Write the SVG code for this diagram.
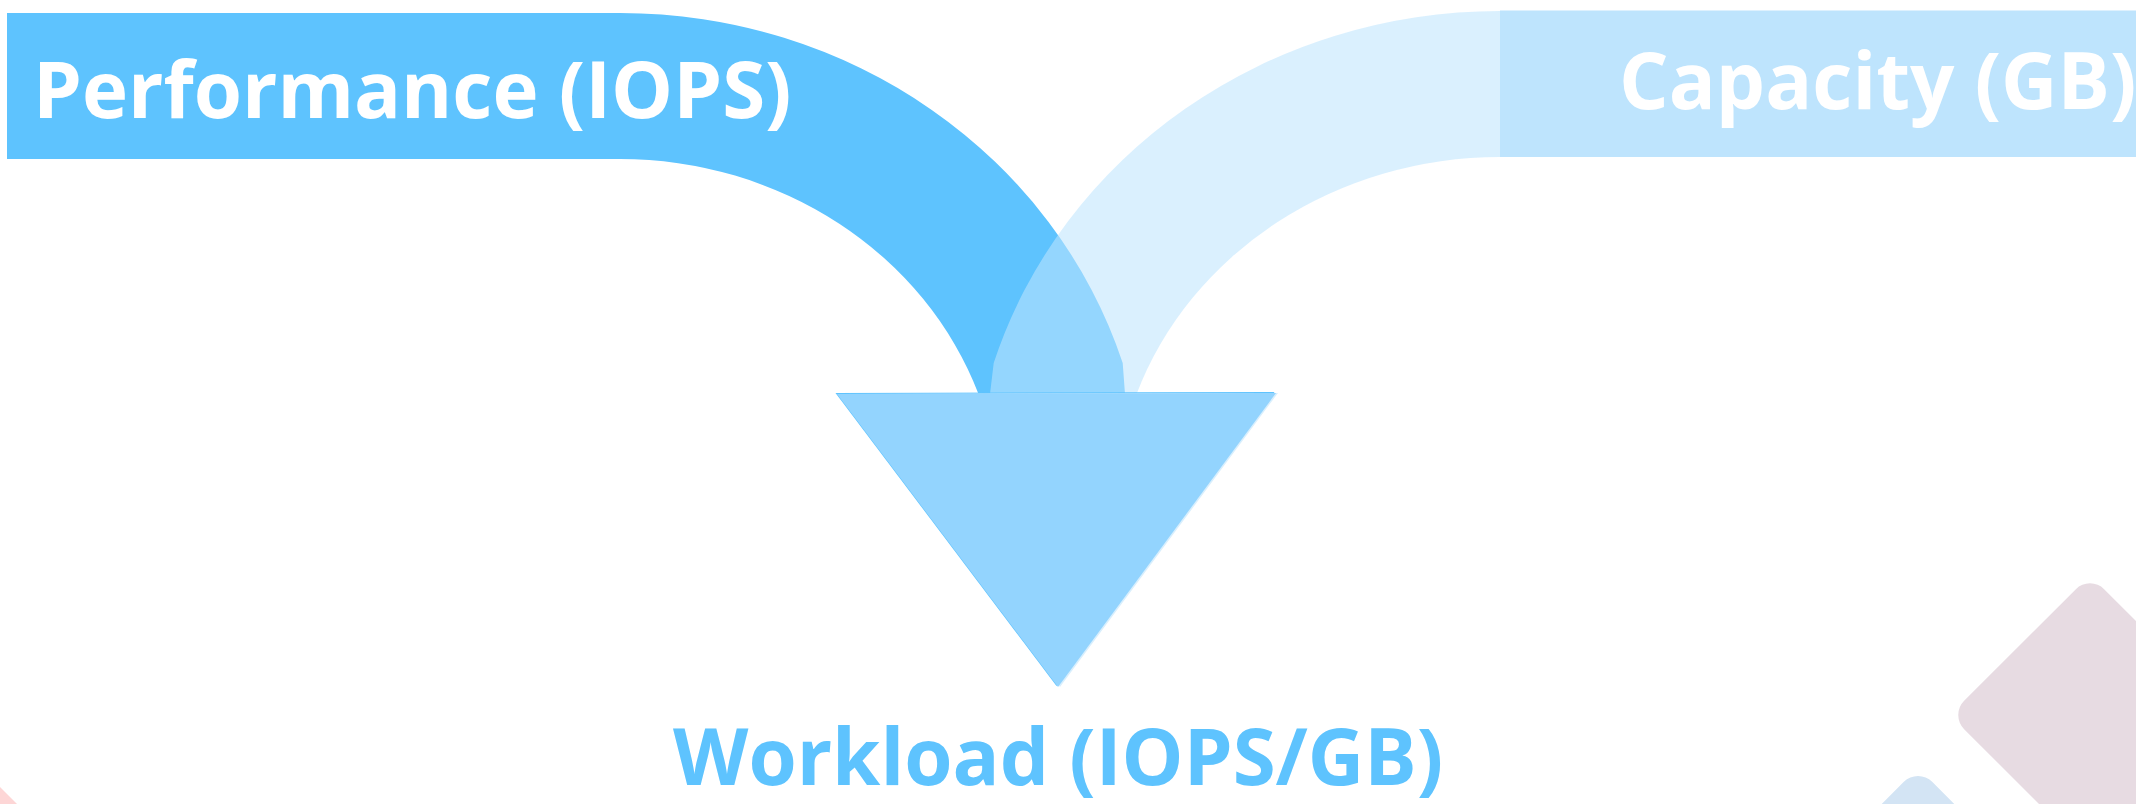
<svg xmlns="http://www.w3.org/2000/svg" width="2136" height="804" viewBox="0 0 2136 804">
  <style>
    .label { font-family: "Open Sans", "Noto Sans", "Liberation Sans", sans-serif; font-weight: 700; font-size: 78px; }
    .on-band { fill: #ffffff; }
    .result { fill: #5EC3FE; }
    .deco { stroke: none; }
  </style>
  <defs>
    <polygon id="head-shape" points="837,394 1276,393 1058,687"/>
  </defs>

  <!-- soft corner decorations -->
  <g id="decorations">
    <rect class="deco" x="-99" y="-99" width="198" height="198" rx="20" fill="#E7DBE2" transform="translate(2090 715) rotate(45)"/>
    <rect class="deco" x="-90" y="-90" width="180" height="180" rx="20" fill="#D3E4F4" transform="translate(1918 895) rotate(45)"/>
    <rect class="deco" x="-99" y="-99" width="198" height="198" rx="10" fill="#FDD6D6" transform="translate(-60 867) rotate(45)"/>
  </g>

  <!-- two bands merging into one arrow -->
  <g id="connectors">
    <path id="band-performance" d="M7 13 L620 13 A527 500 0 0 1 1122.7 363 L1125 394 L978.5 394 A381 354 0 0 0 620 159 L7 159 Z" fill="#5EC3FE"/>
    <rect id="bar-capacity" x="1500" y="10.5" width="636" height="146.5" fill="#BEE4FD"/>
    <path id="band-capacity" d="M1500 11 A530 500 0 0 0 993.7 363 L990 394 L1136.6 394 A385 354 0 0 1 1500 157 Z" fill="#BEE4FD" fill-opacity="0.57"/>
    <g id="arrowhead">
      <use href="#head-shape" fill="#5EC3FE" transform="translate(-1.5 -1)"/>
      <use href="#head-shape" fill="#D9EFFD" transform="translate(2 0)"/>
      <use href="#head-shape" fill="#93D4FE"/>
    </g>
  </g>

  <g id="node-performance">
    <text class="label on-band" x="33" y="118">Performance (IOPS)</text>
  </g>
  <g id="node-capacity">
    <text class="label on-band" x="1619" y="109">Capacity (GB)</text>
  </g>
  <g id="node-workload">
    <text class="label result" x="673" y="785">Workload (IOPS/GB)</text>
  </g>
</svg>
